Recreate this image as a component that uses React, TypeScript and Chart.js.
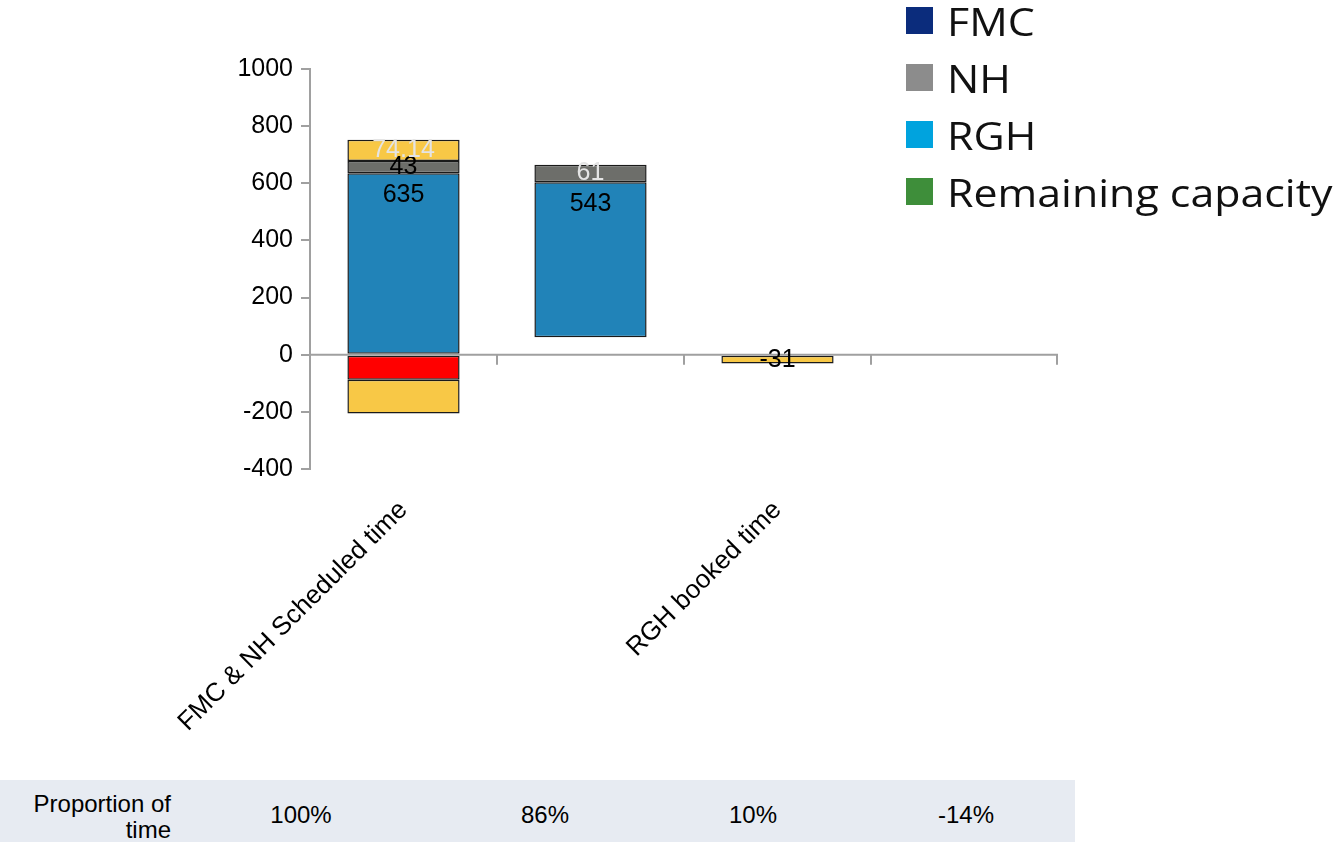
import { useEffect, useRef } from 'react'
import { Chart, registerables } from 'chart.js'

Chart.register(...registerables)

// categories (only 1st and 3rd carry a label)
const categories = ['FMC & NH Scheduled time', '', 'RGH booked time', '']

// invisible offset each stack starts from
const baseVals = [0, 61, 0, 0]
// stacked segments, positive part
const rghVals = [635, 543, 0, 0]
const nhVals = [43, 61, 0, 0]
const extraVals = [74.14, 0, 0, 0]
// negative part
const redVals = [-88, 0, 0, 0]
const shortVals = [-118, 0, 0, 0]
const bookedVals = [0, 0, -31, 0]

const proportions = ['100%', '86%', '10%', '-14%']
const legendItems: [string, string][] = [
  ['FMC', '#0b2c7c'],
  ['NH', '#8c8c8c'],
  ['RGH', '#00a3de'],
  ['Remaining capacity', '#3e8e3a'],
]

const yTicks = { min: -400, max: 1000, step: 200 }

// build floating [start, end] ranges from segment values
function stackUp(starts: number[], vals: number[]) {
  const out: ([number, number] | null)[] = []
  vals.forEach((v, i) => {
    const s = starts[i]
    out.push(v === 0 ? null : [s, s + v])
    starts[i] = s + v
  })
  return out
}

const FONT = '"Liberation Sans", Arial, sans-serif'
const AXIS = '#a0a0a0'
const LIGHT = '#e4e4e4'

const zeroLine = {
  id: 'zeroLine',
  afterDatasetsDraw(chart: any) {
    const { ctx, chartArea, scales } = chart
    const y0 = scales.y.getPixelForValue(0)
    ctx.save()
    ctx.strokeStyle = AXIS
    ctx.lineWidth = 2
    ctx.beginPath()
    ctx.moveTo(chartArea.left, y0)
    ctx.lineTo(chartArea.right, y0)
    for (let i = 1; i <= categories.length; i++) {
      const x = i === categories.length ? chartArea.right - 1 : scales.x.getPixelForValue(i - 0.5)
      ctx.moveTo(x, y0)
      ctx.lineTo(x, y0 + 10)
    }
    ctx.stroke()
    ctx.restore()
  },
}

const barLabels = {
  id: 'barLabels',
  afterDraw(chart: any) {
    const { ctx } = chart
    ctx.save()
    ctx.font = '25px ' + FONT
    ctx.textAlign = 'center'
    ctx.textBaseline = 'middle'
    chart.data.datasets.forEach((ds: any, di: number) => {
      if (!ds.labelColor) return
      const meta = chart.getDatasetMeta(di)
      meta.data.forEach((bar: any, i: number) => {
        const r = ds.data[i]
        if (!r) return
        const top = Math.min(bar.y, bar.base)
        const h = Math.abs(bar.base - bar.y)
        ctx.fillStyle = ds.labelColor[i]
        ctx.fillText(String(Math.round((r[1] - r[0]) * 100) / 100), bar.x, top + Math.min(h / 2, 22))
      })
    })
    ctx.restore()
  },
}

export default function App() {
  const canvasRef = useRef<HTMLCanvasElement>(null)

  useEffect(() => {
    if (!canvasRef.current) return
    const up = [...baseVals]
    const down = baseVals.map(() => 0)
    const rgh = stackUp(up, rghVals)
    const nh = stackUp(up, nhVals)
    const extra = stackUp(up, extraVals)
    const red = stackUp(down, redVals)
    const short = stackUp(down, shortVals)
    const booked = stackUp(baseVals.map(() => 0), bookedVals)

    const common = { borderColor: '#1a1a1a', borderWidth: 1.5, borderSkipped: false as const, barPercentage: 0.6, categoryPercentage: 1 }
    const chart = new Chart(canvasRef.current, {
      type: 'bar',
      data: {
        labels: categories,
        datasets: [
          { ...common, label: 'RGH', data: rgh as any, backgroundColor: '#2183b8', labelColor: ['#000', '#000'] } as any,
          { ...common, label: 'NH', data: nh as any, backgroundColor: '#6d6e6a', labelColor: ['#000', LIGHT] } as any,
          { ...common, label: 'Extra', data: extra as any, backgroundColor: '#f8c846', labelColor: [LIGHT] } as any,
          { ...common, label: 'Over', data: red as any, backgroundColor: '#ff0000' } as any,
          { ...common, label: 'Short', data: short as any, backgroundColor: '#f8c846' } as any,
          { ...common, label: 'Booked', data: booked as any, backgroundColor: '#f8c846', labelColor: ['#000', '#000', '#000'] } as any,
        ],
      },
      options: {
        responsive: true,
        maintainAspectRatio: false,
        animation: false,
        layout: { padding: { top: 69, right: 276, left: 0, bottom: 0 } },
        plugins: { legend: { display: false }, tooltip: { enabled: false } },
        scales: {
          x: {
            stacked: true,
            grid: { display: false },
            border: { display: false },
            ticks: { color: '#000', font: { family: FONT, size: 26 }, minRotation: 45, maxRotation: 45, padding: 18, autoSkip: false },
            afterFit: (s: any) => { s.height = 291 },
          },
          y: {
            min: yTicks.min,
            max: yTicks.max,
            grid: { display: true, drawOnChartArea: false, drawTicks: true, tickLength: 9, color: AXIS, lineWidth: 2 },
            border: { display: true, color: AXIS, width: 2 },
            ticks: { stepSize: yTicks.step, color: '#000', font: { family: FONT, size: 25 }, padding: 8, callback: (v: any) => String(v) },
            afterFit: (s: any) => { s.width = 310 },
          },
        },
      },
      plugins: [zeroLine, barLabels],
    })
    return () => { chart.destroy() }
  }, [])

  return (
    <div style={{ position: 'absolute', left: 0, top: 0, width: 1334, height: 842, background: '#fff', overflow: 'hidden' }}>
      <div style={{ position: 'absolute', left: 0, top: 0, width: 1334, height: 760 }}>
        <canvas ref={canvasRef} />
      </div>
      <div style={{ position: 'absolute', left: 906, top: 0 }}>
        {legendItems.map(([name, color], i) => (
          <div key={name} style={{ position: 'absolute', top: i * 57, left: 0, height: 40, display: 'flex', alignItems: 'center', whiteSpace: 'nowrap' }}>
            <span style={{ width: 27, height: 27, background: color, display: 'inline-block', marginRight: 14, flex: 'none' }} />
            <span style={{ fontFamily: '"Open Sans", sans-serif', fontSize: 39, color: '#111', display: 'inline-block', transform: 'scaleX(1.1)', transformOrigin: 'left center' }}>{name}</span>
          </div>
        ))}
      </div>
      <div style={{ position: 'absolute', left: 0, top: 780, width: 1075, height: 62, background: '#e7ebf2', fontFamily: FONT, fontSize: 24, lineHeight: '26px', color: '#000' }}>
        <div style={{ position: 'absolute', right: 1075 - 171, top: 11, textAlign: 'right', whiteSpace: 'nowrap' }}>Proportion of<br />time</div>
        {proportions.map((p, i) => (
          <div key={i} style={{ position: 'absolute', left: [301, 545, 753, 966][i] - 60, width: 120, top: 22, textAlign: 'center' }}>{p}</div>
        ))}
      </div>
    </div>
  )
}
